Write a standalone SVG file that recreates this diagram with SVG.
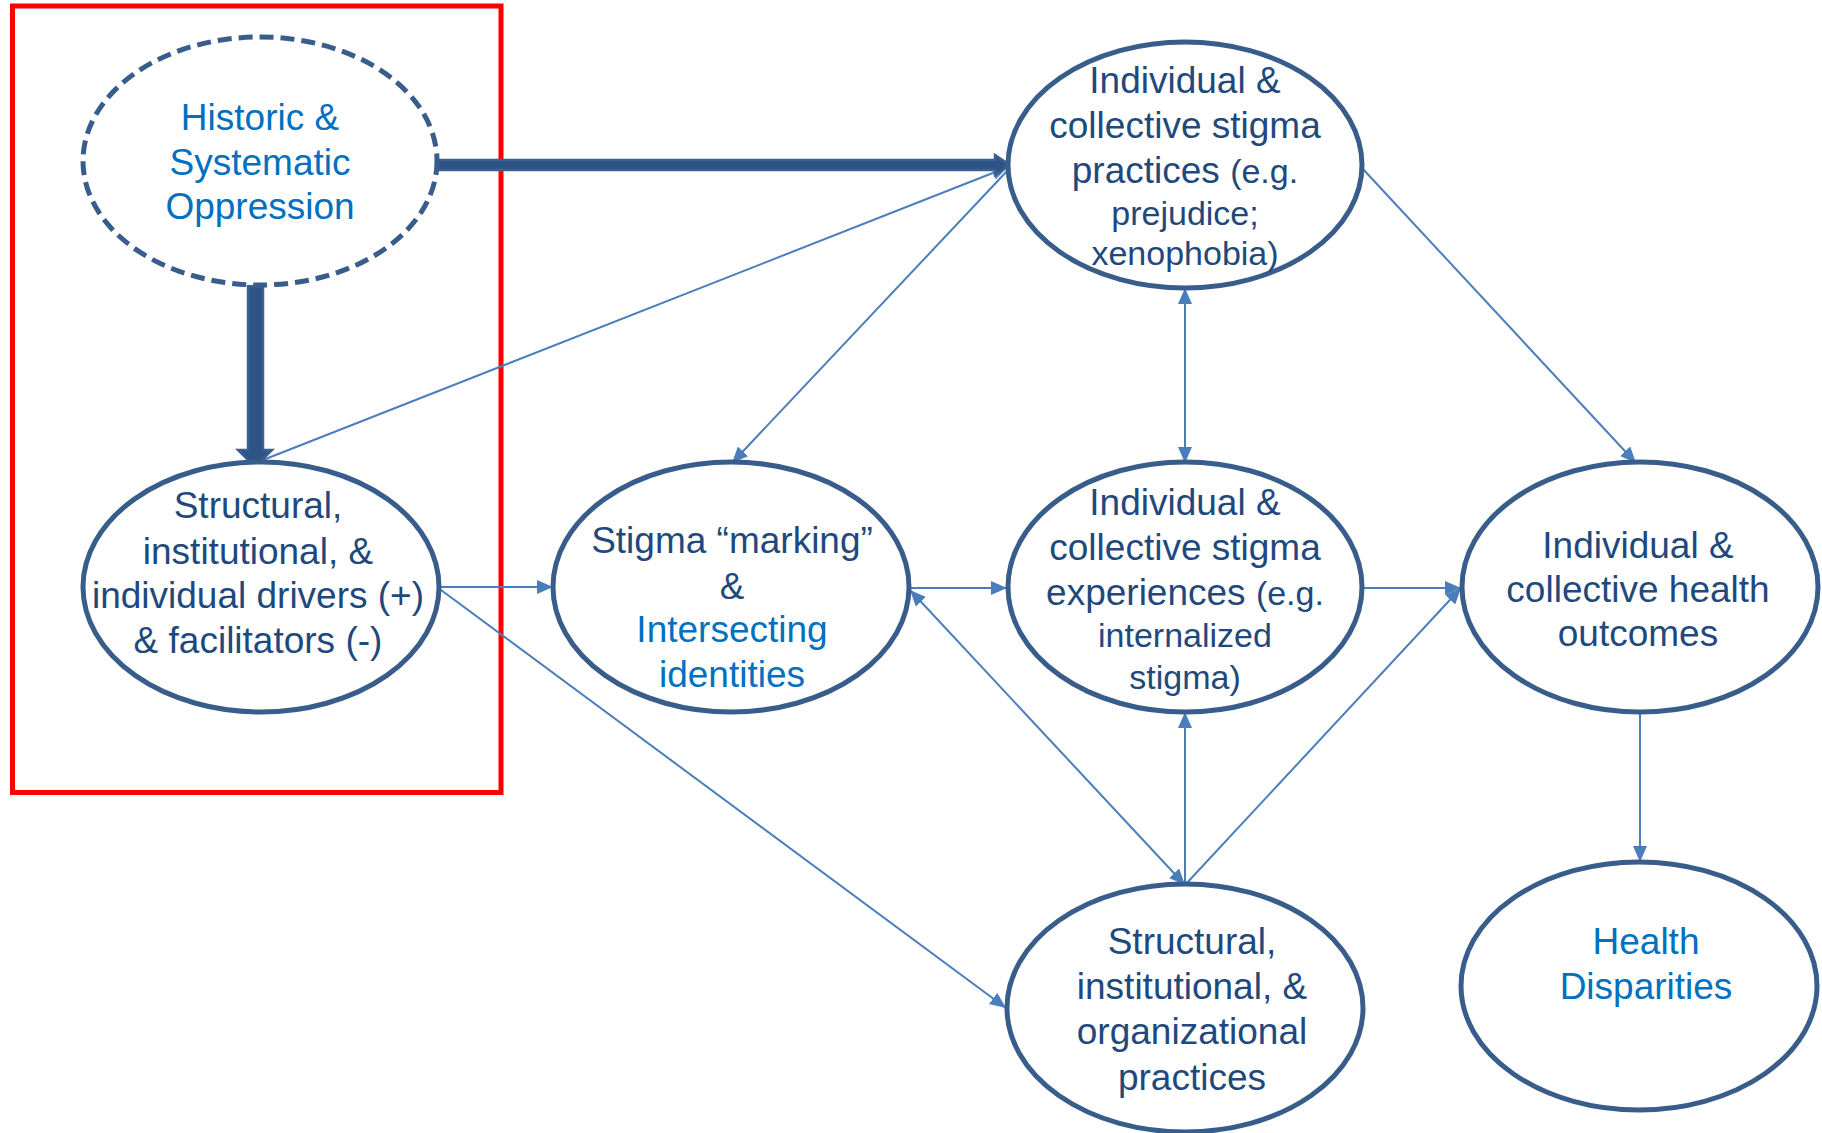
<svg xmlns="http://www.w3.org/2000/svg" width="1822" height="1133" viewBox="0 0 1822 1133">
<defs>
<style>
.node{fill:#FFFFFF;stroke:#385D8A;stroke-width:5}
.dashed{stroke-dasharray:14 7}
.t{font-family:"Liberation Sans",Arial,sans-serif;font-size:37px;fill:#1F497D;text-anchor:middle}
.b{fill:#0070C0}
.s{font-size:34px}
.conn{stroke:#4A7EBB;stroke-width:2;fill:none}
.thick{fill:#2E5487;stroke:#3B6193;stroke-width:2.5}
</style>
<marker id="ah" viewBox="0 0 16 14" markerWidth="16" markerHeight="14" refX="16" refY="7" orient="auto-start-reverse" markerUnits="userSpaceOnUse">
<path d="M0,0 L16,7 L0,14 z" fill="#4A7EBB"/>
</marker>
</defs>
<rect width="1822" height="1133" fill="#FFFFFF"/>
<rect id="frame" x="12.5" y="6" width="488.5" height="786.5" fill="none" stroke="#FF0000" stroke-width="5"/>

<g id="connectors">
<line class="conn" x1="263" y1="460" x2="1008" y2="167" marker-end="url(#ah)"/>
<line class="conn" x1="1008" y1="170" x2="732" y2="463" marker-end="url(#ah)"/>
<line class="conn" x1="439" y1="587" x2="553" y2="587" marker-end="url(#ah)"/>
<line class="conn" x1="441" y1="590" x2="1006" y2="1008" marker-end="url(#ah)"/>
<line class="conn" x1="910" y1="588" x2="1007" y2="588" marker-end="url(#ah)"/>
<line class="conn" x1="910" y1="590" x2="1185" y2="885" marker-start="url(#ah)" marker-end="url(#ah)"/>
<line class="conn" x1="1185" y1="885" x2="1185" y2="712" marker-end="url(#ah)"/>
<line class="conn" x1="1185" y1="885" x2="1461" y2="588" marker-end="url(#ah)"/>
<line class="conn" x1="1185" y1="288" x2="1185" y2="463" marker-start="url(#ah)" marker-end="url(#ah)"/>
<line class="conn" x1="1362" y1="168" x2="1636" y2="463" marker-end="url(#ah)"/>
<line class="conn" x1="1362" y1="588" x2="1461" y2="588" marker-end="url(#ah)"/>
<line class="conn" x1="1640" y1="712" x2="1640" y2="862" marker-end="url(#ah)"/>
<polygon class="thick" points="437,160 995,160 995,155 1010,165 995,175 995,170 437,170"/>
<polygon class="thick" points="248,286 263,286 263,450 272,450 255,467 238,450 248,450"/>
</g>

<g id="historic">
<ellipse class="node dashed" cx="260" cy="161" rx="177" ry="124"/>
<text class="t b" x="260" y="130">Historic &amp;</text>
<text class="t b" x="260" y="175">Systematic</text>
<text class="t b" x="260" y="219">Oppression</text>
</g>

<g id="drivers">
<ellipse class="node" cx="261" cy="587" rx="178" ry="125"/>
<text class="t" x="258" y="518">Structural,</text>
<text class="t" x="258" y="564">institutional, &amp;</text>
<text class="t" x="258" y="608">individual drivers (+)</text>
<text class="t" x="258" y="653">&amp; facilitators (-)</text>
</g>

<g id="practices">
<ellipse class="node" cx="1185" cy="165" rx="177" ry="123"/>
<text class="t" x="1185" y="93">Individual &amp;</text>
<text class="t" x="1185" y="138">collective stigma</text>
<text class="t" x="1185" y="183">practices <tspan class="s">(e.g.</tspan></text>
<text class="t s" x="1185" y="225">prejudice;</text>
<text class="t s" x="1185" y="265">xenophobia)</text>
</g>

<g id="marking">
<ellipse class="node" cx="731" cy="587" rx="178" ry="125"/>
<text class="t" x="732" y="553">Stigma “marking”</text>
<text class="t" x="732" y="599">&amp;</text>
<text class="t b" x="732" y="642">Intersecting</text>
<text class="t b" x="732" y="687">identities</text>
</g>

<g id="experiences">
<ellipse class="node" cx="1185" cy="587" rx="177" ry="125"/>
<text class="t" x="1185" y="515">Individual &amp;</text>
<text class="t" x="1185" y="560">collective stigma</text>
<text class="t" x="1185" y="605">experiences <tspan class="s">(e.g.</tspan></text>
<text class="t s" x="1185" y="647">internalized</text>
<text class="t s" x="1185" y="689">stigma)</text>
</g>

<g id="outcomes">
<ellipse class="node" cx="1640" cy="587" rx="178" ry="125"/>
<text class="t" x="1638" y="558">Individual &amp;</text>
<text class="t" x="1638" y="602">collective health</text>
<text class="t" x="1638" y="646">outcomes</text>
</g>

<g id="organizational">
<ellipse class="node" cx="1185" cy="1008" rx="178" ry="124"/>
<text class="t" x="1192" y="954">Structural,</text>
<text class="t" x="1192" y="999">institutional, &amp;</text>
<text class="t" x="1192" y="1044">organizational</text>
<text class="t" x="1192" y="1090">practices</text>
</g>

<g id="disparities">
<ellipse class="node" cx="1639" cy="986" rx="178" ry="124"/>
<text class="t b" x="1646" y="954">Health</text>
<text class="t b" x="1646" y="999">Disparities</text>
</g>
</svg>
